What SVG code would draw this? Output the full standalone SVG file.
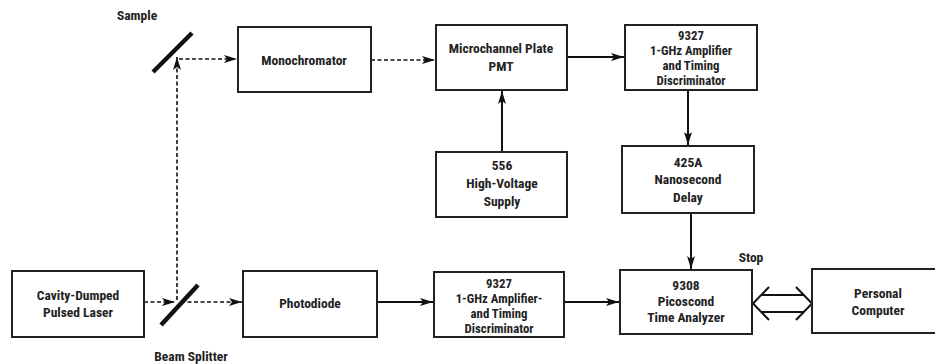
<svg xmlns="http://www.w3.org/2000/svg" width="935" height="364" viewBox="0 0 935 364">
<defs>
<marker id="ah" markerUnits="userSpaceOnUse" markerWidth="14" markerHeight="10" refX="13" refY="5" orient="auto">
<path d="M0,1 L13,5 L0,9 L3,5 Z" fill="#111"/>
</marker>
</defs>
<style>
rect{fill:#fff;stroke:#222;stroke-width:2}
text{font-family:"Liberation Sans Narrow","Roboto Condensed","Liberation Sans",Arial,sans-serif;font-weight:bold;font-size:13.5px;fill:#222;text-anchor:middle;dominant-baseline:central}
.t4 text{font-size:12.8px}
.s{stroke:#111;stroke-width:2;fill:none}
.d{stroke:#111;stroke-width:1.6;fill:none;stroke-dasharray:4,2.5}
.m{stroke:#111;stroke-width:4.5;stroke-linecap:butt}
</style>
<rect x="0" y="0" width="935" height="364" style="fill:#fff;stroke:none"/>
<g id="connectors">
<path class="d" d="M144,302 H175" marker-end="url(#ah)"/>
<path class="d" d="M181,302 H242" marker-end="url(#ah)"/>
<path class="d" d="M177,300 V57" marker-end="url(#ah)"/>
<path class="d" d="M179,59 H237" marker-end="url(#ah)"/>
<path class="d" d="M371,60 H435" marker-end="url(#ah)"/>
<path class="s" d="M567,57 H624" marker-end="url(#ah)"/>
<path class="s" d="M688,90 V145" marker-end="url(#ah)"/>
<path class="s" d="M691,213 V269" marker-end="url(#ah)"/>
<path class="s" d="M502,152 V91" marker-end="url(#ah)"/>
<path class="s" d="M377,302 H433" marker-end="url(#ah)"/>
<path class="s" d="M564,302 H619" marker-end="url(#ah)"/>
<path class="s" d="M761,295 H804 M761,312 H804"/>
<polyline class="s" points="769,287 753,303.5 769,320"/>
<polyline class="s" points="796,287 812,303.5 796,320"/>
</g>
<g id="sample-mirror"><line class="m" x1="153" y1="72" x2="192" y2="33"/><text x="137" y="15">Sample</text></g>
<g id="beam-splitter"><line class="m" x1="161" y1="325" x2="198" y2="285"/><text x="191" y="356">Beam Splitter</text></g>
<g id="laser"><rect x="12" y="271" width="132" height="66"/><text x="78" y="295">Cavity-Dumped</text><text x="78" y="312">Pulsed Laser</text></g>
<g id="photodiode"><rect x="243" y="271" width="134" height="66"/><text x="310" y="303">Photodiode</text></g>
<g id="amp-bottom" class="t4"><rect x="434" y="272" width="130" height="65"/><text x="499" y="283.5">9327</text><text x="499" y="298.5">1-GHz Amplifier-</text><text x="499" y="313.5">and Timing</text><text x="499" y="328.5">Discriminator</text></g>
<g id="analyzer"><rect x="620" y="270" width="132" height="64"/><text x="686" y="285">9308</text><text x="686" y="301">Picoscond</text><text x="686" y="317">Time Analyzer</text><text x="751" y="257">Stop</text></g>
<g id="computer"><rect x="812" y="269" width="125" height="64"/><text x="878" y="293">Personal</text><text x="878" y="310">Computer</text></g>
<g id="monochromator"><rect x="238" y="27" width="133" height="65"/><text x="304" y="60">Monochromator</text></g>
<g id="mcp"><rect x="436" y="25" width="131" height="65"/><text x="501" y="48">Microchannel  Plate</text><text x="501" y="66">PMT</text></g>
<g id="amp-top" class="t4"><rect x="625" y="25" width="132" height="65"/><text x="691" y="35">9327</text><text x="691" y="50">1-GHz Amplifier</text><text x="691" y="65">and Timing</text><text x="691" y="80">Discriminator</text></g>
<g id="delay"><rect x="622" y="146" width="132" height="67"/><text x="688" y="162">425A</text><text x="688" y="179">Nanosecond</text><text x="688" y="197">Delay</text></g>
<g id="hv-supply"><rect x="436" y="152" width="131" height="65"/><text x="502" y="165">556</text><text x="502" y="183">High-Voltage</text><text x="502" y="201">Supply</text></g>
</svg>
